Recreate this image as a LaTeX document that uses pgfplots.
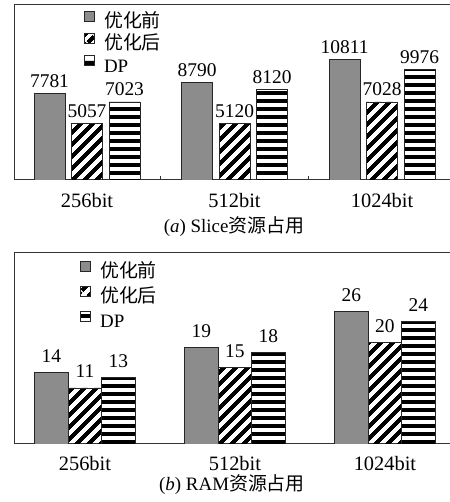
\documentclass[border=0pt]{standalone}
\usepackage{fontspec}
\setmainfont{Liberation Serif}
\newfontfamily\cjk{Noto Sans CJK SC}
\usepackage{pgfplots}
\pgfplotsset{compat=1.18}
\usetikzlibrary{patterns.meta}

\tikzdeclarepattern{
  name=hstripes, type=uncolored,
  bounding box={(0,0) and (8.4bp,8.4bp)},
  tile size={(8.4bp,8.4bp)},
  code={\pgfpathrectangle{\pgfpointorigin}{\pgfpoint{8.4bp}{4.2bp}}\pgfusepath{fill}}
}
\tikzdeclarepattern{
  name=dstripes, type=uncolored,
  bounding box={(0,0) and (9bp,9bp)},
  tile size={(9bp,9bp)},
  tile transformation={rotate=45},
  code={\pgfpathrectangle{\pgfpointorigin}{\pgfpoint{9bp}{4.5bp}}\pgfusepath{fill}}
}

\definecolor{bargray}{RGB}{140,140,140}

\pgfplotsset{
  legimg/.style={legend image code/.code={\draw[##1] (0bp,1.5bp) rectangle (10bp,11.5bp);}},
  before/.style={draw=black!85, line width=0.8bp, fill=bargray, legimg},
  after/.style={draw=black!85, line width=0.8bp, pattern=dstripes, pattern color=black, legimg},
  dp/.style={draw=black!85, line width=0.8bp, pattern=hstripes, pattern color=black, legimg},
  mystyle/.style={
    scale only axis, ymin=0,
    axis line style={black!80, line width=1bp},
    ytick=\empty, xtick={0,1,2}, xticklabels={256bit,512bit,1024bit},
    xtick pos=bottom,
    major tick length=0pt,
    nodes near coords,
    every node near coord/.append style={font=\fontsize{19.5}{22}\selectfont, anchor=base, text=black},
    /pgf/number format/1000 sep={},
    /pgf/number format/assume math mode=true,
    legend style={draw=none, fill=none, inner sep=0pt, anchor=north west,
      font=\fontsize{19}{21}\selectfont,
      nodes={inner sep=0pt, text height=14bp, text depth=4bp},
      column sep=9bp},
    legend cell align=left,
  },
}

\begin{document}
\begin{tikzpicture}
\useasboundingbox (0,0) rectangle (450bp,502bp);

% (a) Slice
\begin{axis}[mystyle,
  at={(14bp,322bp)}, anchor=south west,
  width=438bp, height=175bp,
  xmin=-0.495, xmax=2.474, ymax=15750,
  ybar=6.5bp, bar width=31bp,
  xticklabel style={font=\fontsize{20.5}{23}\selectfont, yshift=-10bp},
  every node near coord/.append style={yshift=6bp},
  extra x ticks={0.5,1.5}, extra x tick labels={},
  extra tick style={major tick length=4bp, tick align=inside, tick style={black!80, line width=0.8bp}},
  legend style={at={(0.16,0.9686)}, row sep=1.5bp},
]
\addplot[before] coordinates {(0,7781) (1,8790) (2,10811)};
\addplot[after] coordinates {(0,5057) (1,5120) (2,7028)};
\addplot[dp] coordinates {(0,7023) (1,8120) (2,9976)};
\legend{{\cjk 优化前},{\cjk 优化后},DP}
\end{axis}
\node[font=\fontsize{19}{22}\selectfont] at (234bp,275bp) {(\textit{a}) Slice{\cjk 资源占用}};

% (b) RAM
\begin{axis}[mystyle,
  at={(14bp,58bp)}, anchor=south west,
  width=438bp, height=191bp,
  xmin=-0.473, xmax=2.447, ymax=37.5,
  ybar=0bp, bar width=33.5bp,
  xticklabel style={font=\fontsize{20.5}{23}\selectfont, yshift=-9bp},
  every node near coord/.append style={yshift=10bp},
  legend style={at={(0.151,0.9607)}, row sep=4bp},
]
\addplot[before] coordinates {(0,14) (1,19) (2,26)};
\addplot[after] coordinates {(0,11) (1,15) (2,20)};
\addplot[dp] coordinates {(0,13) (1,18) (2,24)};
\legend{{\cjk 优化前},{\cjk 优化后},DP}
\end{axis}
\node[font=\fontsize{19}{22}\selectfont] at (232bp,17bp) {(\textit{b}) RAM{\cjk 资源占用}};
\end{tikzpicture}
\end{document}
